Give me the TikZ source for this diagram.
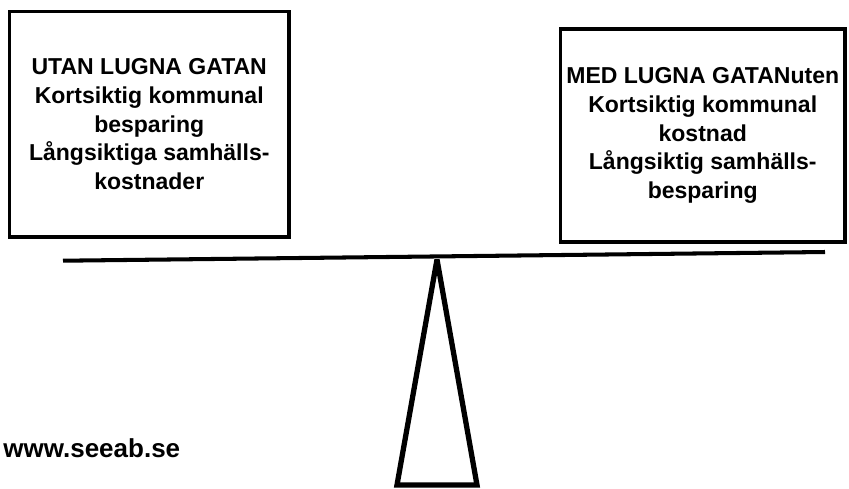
\documentclass[tikz,border=0pt]{standalone}
\usepackage{fontspec}
\setmainfont{Liberation Sans}
\begin{document}
\begin{tikzpicture}[x=0.02cm,y=-0.02cm]
    \tikzstyle{box}=[draw,line width=2pt,align=center,inner sep=0pt,font=\bfseries\fontsize{13.1}{16.3}\selectfont]
    \tikzstyle{beam}=[draw,line width=2.3pt,black!100]
    \tikzstyle{stand}=[draw,line width=3pt,miter limit=2]
    \useasboundingbox (0,0) rectangle (849,488);
    \node[box,minimum width=5.59cm,minimum height=4.51cm] (utan) at (149.25,124.25) {UTAN LUGNA GATAN\\Kortsiktig kommunal\\besparing\\Långsiktiga samhälls-\\kostnader};
    \node[box,minimum width=5.69cm,minimum height=4.26cm] (med) at (702.75,135.5) {MED LUGNA GATANuten\\Kortsiktig kommunal\\kostnad\\Långsiktig samhälls-\\besparing};
    \draw[beam] (63,260.7) -- (825,252);
    \coordinate (top) at (437,259.5);
    \coordinate (br) at (477,485);
    \coordinate (bl) at (397,485);
    \draw[stand] (top) -- (br) -- (bl) -- cycle;
    \node[anchor=base west,inner sep=0pt,font=\bfseries\fontsize{14.8}{17}\selectfont] (web) at (3,457) {www.seeab.se};
\end{tikzpicture}
\end{document}
